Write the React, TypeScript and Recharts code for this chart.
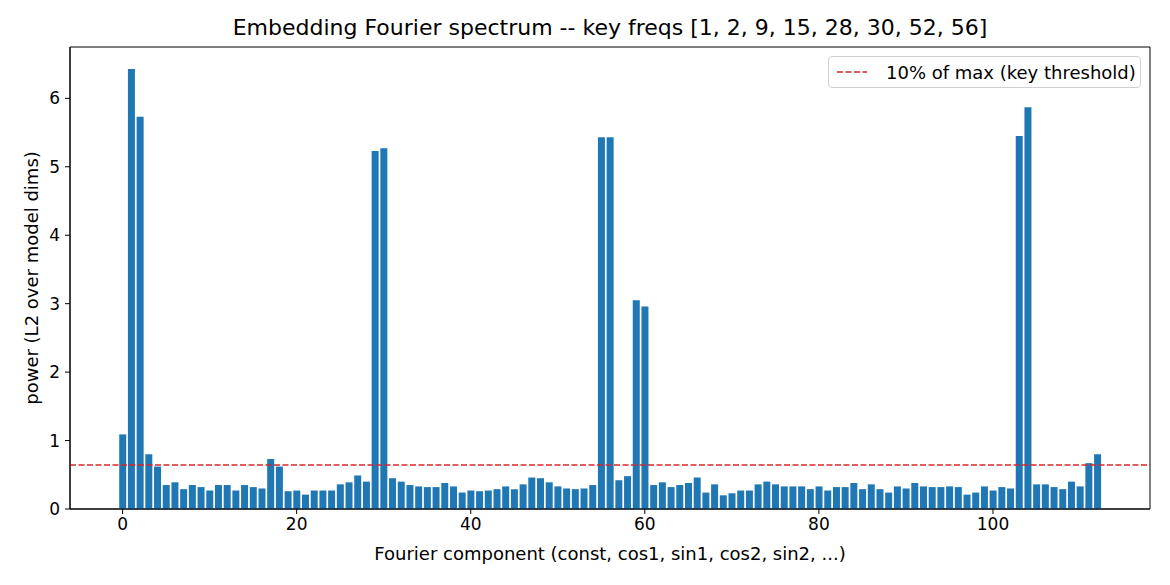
import { ComposedChart, Bar, XAxis, YAxis, ReferenceLine, ReferenceArea } from 'recharts';

const power = [
  1.09, 6.43, 5.73, 0.8, 0.62, 0.35, 0.39, 0.29, 0.35, 0.32,
  0.27, 0.35, 0.35, 0.27, 0.35, 0.32, 0.3, 0.73, 0.62, 0.26,
  0.27, 0.21, 0.27, 0.27, 0.27, 0.36, 0.39, 0.49, 0.4, 5.23,
  5.27, 0.45, 0.4, 0.35, 0.33, 0.32, 0.32, 0.38, 0.33, 0.24,
  0.27, 0.26, 0.27, 0.29, 0.33, 0.29, 0.36, 0.46, 0.45, 0.39,
  0.33, 0.3, 0.29, 0.3, 0.35, 5.43, 5.43, 0.42, 0.48, 3.05,
  2.96, 0.35, 0.39, 0.32, 0.35, 0.38, 0.46, 0.24, 0.36, 0.2,
  0.23, 0.27, 0.27, 0.36, 0.4, 0.36, 0.33, 0.33, 0.33, 0.29,
  0.33, 0.27, 0.32, 0.32, 0.38, 0.29, 0.36, 0.29, 0.24, 0.33,
  0.3, 0.38, 0.33, 0.32, 0.32, 0.33, 0.32, 0.21, 0.24, 0.33,
  0.27, 0.32, 0.3, 5.45, 5.87, 0.36, 0.36, 0.32, 0.29, 0.4,
  0.33, 0.67, 0.8,
];

const xTicks = [0, 20, 40, 60, 80, 100];
const yTicks = [0, 1, 2, 3, 4, 5, 6];
const xDomain: [number, number] = [-6.04, 118.04];
const yDomain: [number, number] = [0, 6.75];
const threshold = 0.643;

const title = 'Embedding Fourier spectrum -- key freqs [1, 2, 9, 15, 28, 30, 52, 56]';
const xLabel = 'Fourier component (const, cos1, sin1, cos2, sin2, ...)';
const yLabel = 'power (L2 over model dims)';
const legendLabel = '10% of max (key threshold)';

const FONT = '"DejaVu Sans", sans-serif';
const RED = '#d62728';

const data = power.map((p, i) => ({ idx: i, power: p }));

function YLabel({ viewBox }: any) {
  const cx = viewBox.x + 31;
  const cy = viewBox.y + viewBox.height / 2;
  return (
    <text x={cx} y={cy} transform={`rotate(-90 ${cx} ${cy})`} textAnchor="middle"
      dominantBaseline="central" fontSize={18} fontFamily={FONT} fill="#000">
      {yLabel}
    </text>
  );
}

function XLabel({ viewBox }: any) {
  const cx = viewBox.x + viewBox.width / 2;
  return (
    <text x={cx} y={viewBox.y + 44} textAnchor="middle" dominantBaseline="central"
      fontSize={18} fontFamily={FONT} fill="#000">
      {xLabel}
    </text>
  );
}

export default function App() {
  return (
    <div style={{ position: 'absolute', left: 0, top: 0, width: 1170, height: 585, background: '#fff' }}>
      <div style={{
        position: 'absolute', left: 70, width: 1080, top: 15, textAlign: 'center',
        fontFamily: FONT, fontSize: 22, color: '#000', lineHeight: '26px', whiteSpace: 'nowrap',
      }}>
        {title}
      </div>
      <ComposedChart width={1170} height={585} data={data}
        margin={{ top: 47, right: 20, left: 0, bottom: 0 }}>
        <XAxis dataKey="idx" type="number" domain={xDomain} ticks={xTicks} allowDataOverflow
          height={76} tickSize={5} tickMargin={4} tickLine={{ stroke: '#000' }}
          axisLine={{ stroke: '#000' }} tick={{ fill: '#000', fontSize: 17, fontFamily: FONT }}
          label={<XLabel />} />
        <YAxis type="number" domain={yDomain} ticks={yTicks} allowDataOverflow width={70}
          tickSize={5} tickMargin={5} tickLine={{ stroke: '#000' }} axisLine={{ stroke: '#000' }}
          tick={{ fill: '#000', fontSize: 17, fontFamily: FONT }} label={<YLabel />} />
        <Bar dataKey="power" fill="#1f77b4" barSize={7} isAnimationActive={false} />
        <ReferenceLine y={threshold} stroke={RED} strokeWidth={1.6} strokeDasharray="6 2.5" />
        <ReferenceArea x1={xDomain[0]} x2={xDomain[1]} y1={yDomain[0]} y2={yDomain[1]}
          fill="none" stroke="#000" strokeWidth={1} ifOverflow="visible" />
      </ComposedChart>
      <div style={{
        position: 'absolute', left: 828, top: 56, width: 311, height: 30,
        border: '1px solid #d0d0d0', borderRadius: 4, background: '#fff',
        display: 'flex', alignItems: 'center', fontFamily: FONT, fontSize: 18, whiteSpace: 'nowrap',
      }}>
        <svg width={48} height={10}>
          <line x1={8} y1={5} x2={38} y2={5} stroke={RED} strokeWidth={1.6} strokeDasharray="6 2.5" />
        </svg>
        <span style={{ marginLeft: 9 }}>{legendLabel}</span>
      </div>
    </div>
  );
}
